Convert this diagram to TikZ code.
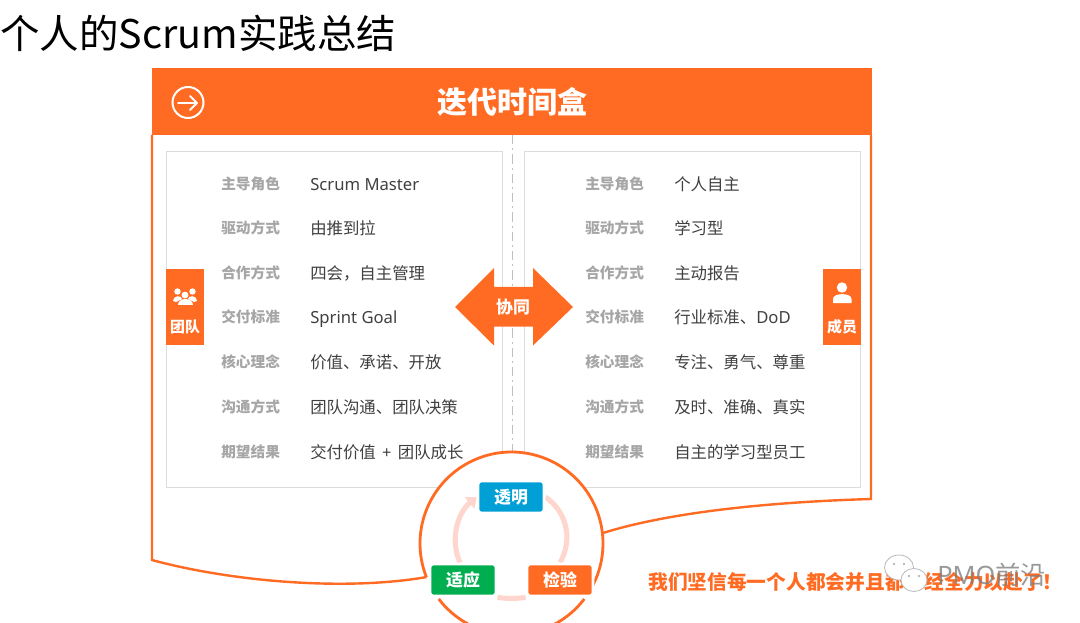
\documentclass[tikz,border=0pt]{standalone}
\usepackage{fontspec}
\setmainfont{Noto Sans}
\newfontfamily\cjk{Noto Sans CJK SC}
\usetikzlibrary{arrows.meta}
\definecolor{brand}{HTML}{FF6B22}
\definecolor{labelgray}{HTML}{A6A6A6}
\definecolor{valuegray}{HTML}{404040}
\definecolor{panelline}{HTML}{DCDCDC}
\definecolor{ringpink}{HTML}{FFD6CE}
\definecolor{tmblue}{HTML}{00A0D6}
\definecolor{sygreen}{HTML}{00AE50}
\newcommand{\fs}[1]{\fontsize{#1}{#1}\selectfont}
\newcommand{\lat}[1]{{\rmfamily\fs{12.5}#1}}
\pgfdeclarelayer{top}
\pgfsetlayers{main,top}
\tikzset{
  x=0.75pt,y=-0.75pt,
  panel/.style={draw=panelline,line width=0.75pt,fill=white},
  frameline/.style={draw=brand,line width=1.8pt},
  rowlabel/.style={anchor=west,inner sep=0pt,yshift=-0.75pt,text=labelgray,text height=9pt,text depth=2pt,font=\cjk\bfseries\fs{11}},
  rowvalue/.style={anchor=west,inner sep=0pt,yshift=-0.75pt,text=valuegray,text height=10pt,text depth=2.4pt,font=\cjk\fs{12.3}},
  tabtext/.style={inner sep=0pt,text=white,font=\cjk\bfseries\fs{11.2}},
  pill/.style={draw=white,line width=2pt,rounded corners=2.5pt,minimum width=49.5pt,minimum height=24pt,inner sep=0pt,text=white,font=\cjk\bfseries\fs{12.7}},
  ring/.style={draw=ringpink,line width=3.8pt},
  wmark/.style={draw=gray!55,line width=0.6pt,fill=white},
}
\begin{document}
\begin{tikzpicture}
\useasboundingbox (0,0) rectangle (1080,623);
\begin{scope}
\clip (0,0) rectangle (1080,623);
\fill[white] (0,0) rectangle (1080,623);
\node[anchor=west,inner sep=0pt,font=\cjk\fs{29.6},text=black] (title) at (0,33) {个人的Scrum实践总结};
% frame
\fill[white] (152,135) rectangle (871,530);
\coordinate (fl) at (152,135);
\coordinate (fr) at (871,135);
\coordinate (cl) at (427,577);
\coordinate (cr) at (603,533);
\draw[frameline] (fl) -- (152,560) .. controls (225,580) and (340,592) .. (cl);
\draw[frameline] (fr) -- (871,499) .. controls (770,502) and (670,512) .. (cr);
\fill[brand] (152,68) rectangle (872,135);
\node[inner sep=0pt,text=white,font=\cjk\bfseries\fs{22.5}] (head) at (512,102) {迭代时间盒};
% head icon
\draw[white,line width=1.5pt] (188,102.5) circle[radius=15.5];
\draw[white,line width=1.4pt,line cap=round,line join=round] (178,103) -- (197,103) (190,96) -- (197,103) -- (190,110);
% centre line
\draw[gray!50,line width=0.75pt,dash pattern=on 7pt off 3pt on 1.5pt off 3pt] (512,135) -- (512,452);
% panels
\draw[panel] (166.5,151.5) rectangle (502.5,487);
\draw[panel] (524.5,151.5) rectangle (860.5,487);
% rows left
\foreach \i/\y/\l/\v in {
 1/184/主导角色/{\lat{Scrum Master}},
 2/228/驱动方式/由推到拉,
 3/273/合作方式/四会，自主管理,
 4/317/交付标准/{\lat{Sprint Goal}},
 5/362/核心理念/价值、承诺、开放,
 6/407/沟通方式/团队沟通、团队决策,
 7/452/期望结果/{交付价值\hspace{4.75pt}{\rmfamily +}\hspace{4.75pt}团队成长}}{
  \node[rowlabel] (ll\i) at (221,\y) {\l};
  \node[rowvalue] (lv\i) at (310,\y) {\v};
}
\foreach \i/\y/\l/\v in {
 1/184/主导角色/个人自主,
 2/228/驱动方式/学习型,
 3/273/合作方式/主动报告,
 4/317/交付标准/{行业标准、\lat{DoD}},
 5/362/核心理念/专注、勇气、尊重,
 6/407/沟通方式/及时、准确、真实,
 7/452/期望结果/自主的学习型员工}{
  \node[rowlabel] (rl\i) at (585,\y) {\l};
  \node[rowvalue] (rv\i) at (674,\y) {\v};
}
% tabs
\fill[brand] (166,269) rectangle (204,345);
\node[tabtext] (tuandui) at (185,327) {团队};
\fill[white] (177.5,291.5) circle[radius=3.2] (192.5,291.5) circle[radius=3.2] (185,295) circle[radius=3.4];
\fill[white] (173,301) .. controls (173,295) and (182,295) .. (182,299) -- (176,302) -- cycle;
\fill[white] (197,301) .. controls (197,295) and (188,295) .. (188,299) -- (194,302) -- cycle;
\fill[white] (177.5,305) .. controls (177.5,297.5) and (192.5,297.5) .. (192.5,305) -- cycle;
\fill[brand] (823,269) rectangle (861,345);
\node[tabtext] (chengyuan) at (842,327) {成员};
\fill[white] (842,287.5) circle[radius=5.2];
\fill[white] (833,303) -- (833,299) .. controls (833,292.5) and (851.5,292.5) .. (851.5,299) -- (851.5,303) -- cycle;
% double arrow
\fill[brand] (455,307) -- (494,268) -- (494,287) -- (533,287) -- (533,268) -- (573,307) -- (533,345.5) -- (533,326.5) -- (494,326.5) -- (494,345.5) -- cycle;
\node[inner sep=0pt,text=white,font=\cjk\bfseries\fs{12.7}] (xietong) at (513,307) {协同};
% circle
\fill[white] (511.5,543.5) circle[radius=91.5];
\draw[frameline,line width=2.1pt] (511.5,543.5) ++(158.4:91.5) arc[start angle=158.4,end angle=389.8,radius=91.5];
\draw[frameline,line width=2.1pt] (511.5,543.5) ++(37.3:91.5) arc[start angle=37.3,end angle=142.7,radius=91.5];
\begin{pgfonlayer}{top}
\node[pill,fill=tmblue] (tm) at (511,497) {透明};
\node[pill,fill=brand] (jy) at (560,580) {检验};
\node[pill,fill=sygreen] (sy) at (463,580) {适应};
\end{pgfonlayer}
\draw[ring] (tm.east) .. controls +(20,13.5) and +(14,-25) .. (jy.north);
\draw[ring] (jy.south west) .. controls +(-10,1.5) and +(10,1.5) .. (sy.south east);
\draw[ring,-{Triangle[length=7pt,width=11pt]}] (sy.north) ++(-3,0) .. controls +(-10.3,-23) and +(-19.3,16.2) .. (tm.west);
% bottom text
\node[anchor=west,inner sep=0pt,text=brand,font=\cjk\bfseries\fs{14.8}] (slogan) at (648,582) {我们坚信每一个人都会并且都已经全力以赴了！};
% watermark
\filldraw[wmark] (899,567.5) ellipse[x radius=14.5,y radius=12.5];
\fill[gray!70] (894,564) circle[radius=1.2] (904,564) circle[radius=1.2];
\filldraw[wmark] (914,580) ellipse[x radius=13,y radius=11.5];
\fill[gray!70] (909,576) circle[radius=1.2] (919,576) circle[radius=1.2];
\node[anchor=west,inner sep=0pt,text=gray,opacity=0.8,font=\fs{19}] (wm) at (937,575) {PMO{\cjk 前沿}};
\end{scope}
\end{tikzpicture}
\end{document}
